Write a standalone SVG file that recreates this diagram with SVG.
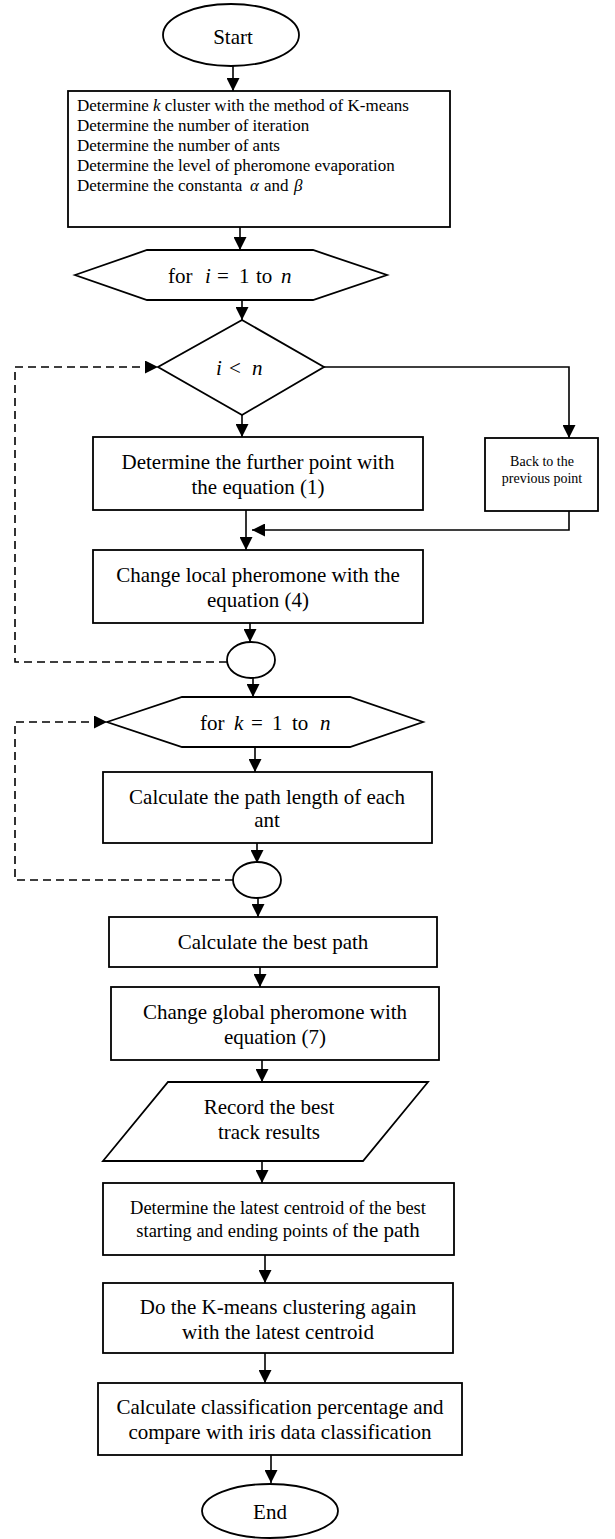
<svg xmlns="http://www.w3.org/2000/svg" width="615" height="1539" viewBox="0 0 615 1539">
<style>
.s{fill:#fff;stroke:#000;stroke-width:1.8}
.c{fill:none;stroke:#000;stroke-width:1.6}
.d{fill:none;stroke:#000;stroke-width:1.6;stroke-dasharray:8 5}
text{font-family:"Liberation Serif","Times New Roman",serif;fill:#000}
.t{font-size:21px;text-anchor:middle}
.q{font-size:21px}
.m{font-style:italic}
</style>
<defs>
<marker id="a" markerWidth="13" markerHeight="13" refX="13" refY="6.5" orient="auto" markerUnits="userSpaceOnUse"><path d="M0,0 L13,6.5 L0,13 z" fill="#000"/></marker>
</defs>
<rect width="615" height="1539" fill="#fff"/>
<g id="connectors">
<path class="c" d="M233,66 V91" marker-end="url(#a)"/>
<path class="c" d="M240,227 V250" marker-end="url(#a)"/>
<path class="c" d="M242,300 V320" marker-end="url(#a)"/>
<path class="c" d="M324,367 H569 V438" marker-end="url(#a)"/>
<path class="c" d="M242,415 V437" marker-end="url(#a)"/>
<path class="c" d="M246,510 V550" marker-end="url(#a)"/>
<path class="c" d="M569,511 V530 H252" marker-end="url(#a)"/>
<path class="c" d="M250,623 V642" marker-end="url(#a)"/>
<path class="d" d="M227,662 H15 V367 H158" marker-end="url(#a)"/>
<path class="c" d="M253,678 V697" marker-end="url(#a)"/>
<path class="c" d="M255,747 V772" marker-end="url(#a)"/>
<path class="c" d="M257,843 V863" marker-end="url(#a)"/>
<path class="d" d="M233,880 H15 V722 H107" marker-end="url(#a)"/>
<path class="c" d="M258,898 V917" marker-end="url(#a)"/>
<path class="c" d="M260,967 V987" marker-end="url(#a)"/>
<path class="c" d="M262,1060 V1082" marker-end="url(#a)"/>
<path class="c" d="M262,1161 V1183" marker-end="url(#a)"/>
<path class="c" d="M265,1255 V1283" marker-end="url(#a)"/>
<path class="c" d="M265,1353 V1383" marker-end="url(#a)"/>
<path class="c" d="M271,1455 V1483" marker-end="url(#a)"/>
</g>
<g id="start">
<ellipse class="s" cx="231" cy="35" rx="68" ry="31"/>
<text class="t" x="233" y="44">Start</text>
</g>
<g id="init">
<rect class="s" x="68" y="91" width="382" height="136"/>
<g font-size="17">
<text x="77" y="111">Determine <tspan class="m">k</tspan> cluster with the method of K-means</text>
<text x="77" y="131">Determine the number of iteration</text>
<text x="77" y="151">Determine the number of ants</text>
<text x="77" y="171">Determine the level of pheromone evaporation</text>
<text x="77" y="191">Determine the constanta <tspan class="m" x="250">α</tspan><tspan x="264">and</tspan><tspan class="m" x="294">β</tspan></text>
</g>
</g>
<g id="loop-i">
<polygon class="s" points="75,275 147,250 313,250 387,275 313,300 147,300"/>
<text class="q" y="283"><tspan x="168">for</tspan><tspan class="m" x="205">i</tspan><tspan x="217">=</tspan><tspan x="239">1</tspan><tspan x="256">to</tspan><tspan class="m" x="281">n</tspan></text>
</g>
<g id="cond">
<polygon class="s" points="242,320 324,367 242,415 158,367"/>
<text class="q" y="375"><tspan class="m" x="216">i</tspan><tspan x="229">&lt;</tspan><tspan class="m" x="252">n</tspan></text>
</g>
<g id="back">
<rect class="s" x="485" y="438" width="113" height="73"/>
<text x="542" y="466" font-size="14" text-anchor="middle">Back to the</text>
<text x="542" y="483" font-size="14" text-anchor="middle">previous point</text>
</g>
<g id="further">
<rect class="s" x="93" y="437" width="330" height="73"/>
<text class="t" x="258" y="469">Determine the further point with</text>
<text class="t" x="258" y="494">the equation (1)</text>
</g>
<g id="local">
<rect class="s" x="93" y="550" width="330" height="73"/>
<text class="t" x="258" y="582">Change local pheromone with the</text>
<text class="t" x="258" y="607">equation (4)</text>
</g>
<g id="end-i">
<ellipse class="s" cx="251" cy="660" rx="24" ry="18"/>
</g>
<g id="loop-k">
<polygon class="s" points="107,722 182,697 350,697 423,722 350,747 182,747"/>
<text class="q" y="730"><tspan x="200">for</tspan><tspan class="m" x="234">k</tspan><tspan x="251">=</tspan><tspan x="272">1</tspan><tspan x="292">to</tspan><tspan class="m" x="320">n</tspan></text>
</g>
<g id="pathlen">
<rect class="s" x="103" y="772" width="329" height="71"/>
<text class="t" x="267" y="804">Calculate the path length of each</text>
<text class="t" x="267" y="827">ant</text>
</g>
<g id="end-k">
<ellipse class="s" cx="257" cy="880" rx="24" ry="18"/>
</g>
<g id="best">
<rect class="s" x="109" y="917" width="328" height="50"/>
<text class="t" x="273" y="949">Calculate the best path</text>
</g>
<g id="global">
<rect class="s" x="111" y="987" width="328" height="73"/>
<text class="t" x="275" y="1019">Change global pheromone with</text>
<text class="t" x="275" y="1044">equation (7)</text>
</g>
<g id="record">
<polygon class="s" points="168,1082 428,1082 363,1161 103,1161"/>
<text class="t" x="269" y="1114">Record the best</text>
<text class="t" x="269" y="1139">track results</text>
</g>
<g id="centroid">
<rect class="s" x="103" y="1183" width="351" height="72"/>
<text x="278" y="1214" font-size="18.5" text-anchor="middle">Determine the latest centroid of the best</text>
<text x="278" y="1237" font-size="18.5" text-anchor="middle">starting and ending points of <tspan font-size="21">the path</tspan></text>
</g>
<g id="kmeans">
<rect class="s" x="103" y="1283" width="350" height="70"/>
<text class="t" x="278" y="1314">Do the K-means clustering again</text>
<text class="t" x="278" y="1339">with the latest centroid</text>
</g>
<g id="classify">
<rect class="s" x="98" y="1383" width="364" height="72"/>
<text class="t" x="280" y="1414">Calculate classification percentage and</text>
<text class="t" x="280" y="1439">compare with iris data classification</text>
</g>
<g id="end">
<ellipse class="s" cx="270" cy="1511" rx="68" ry="27"/>
<text class="t" x="270" y="1519">End</text>
</g>
</svg>
